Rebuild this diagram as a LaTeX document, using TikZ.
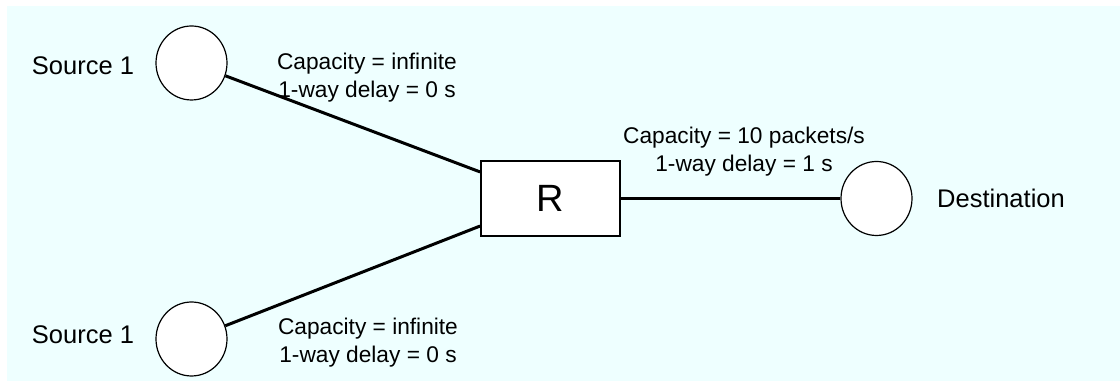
\documentclass[tikz,border=0pt]{standalone}
\usepackage{fontspec}
\setmainfont{Liberation Sans}
\usetikzlibrary{shapes.geometric}
\definecolor{bgcyan}{RGB}{238,255,255}
\tikzset{
  hostnode/.style={ellipse, draw=black, line width=0.6pt, fill=white, minimum width=35.5pt, minimum height=37pt, inner sep=0pt},
  routerbox/.style={rectangle, draw=black, line width=0.9pt, fill=white, minimum width=69.5pt, minimum height=37.5pt, inner sep=0pt, font=\fontsize{19}{22}\selectfont},
  namelabel/.style={inner sep=0pt, font=\fontsize{12.75}{15}\selectfont},
  linklabel/.style={inner sep=0pt, align=center, font=\fontsize{11.35}{14}\selectfont},
  link/.style={line width=1.5pt, black}
}
\begin{document}
\begin{tikzpicture}[x=0.5pt,y=-0.5pt]
\useasboundingbox (0,0) rectangle (1120,383);
\fill[bgcyan] (7,6) rectangle (1120,381);
\node[hostnode] (s1) at (191.5,63) {};
\node[hostnode] (s2) at (191.5,339) {};
\node[routerbox] (r) at (550.5,198.5) {R};
\node[hostnode] (d) at (876.5,198.5) {};
\draw[link] (s1) -- (r);
\draw[link] (s2) -- (r);
\draw[link] (r) -- (d);
\node[namelabel] (s1l) at (83,66) {Source 1};
\node[namelabel] (s2l) at (83,335) {Source 1};
\node[namelabel] (dl) at (1001,198) {Destination};
\node[linklabel] (l1) at (367,78) {Capacity = infinite\\1-way delay = 0 s};
\node[linklabel] (l2) at (368,343) {Capacity = infinite\\1-way delay = 0 s};
\node[linklabel] (l3) at (744,152) {Capacity = 10 packets/s\\1-way delay = 1 s};
\end{tikzpicture}
\end{document}
